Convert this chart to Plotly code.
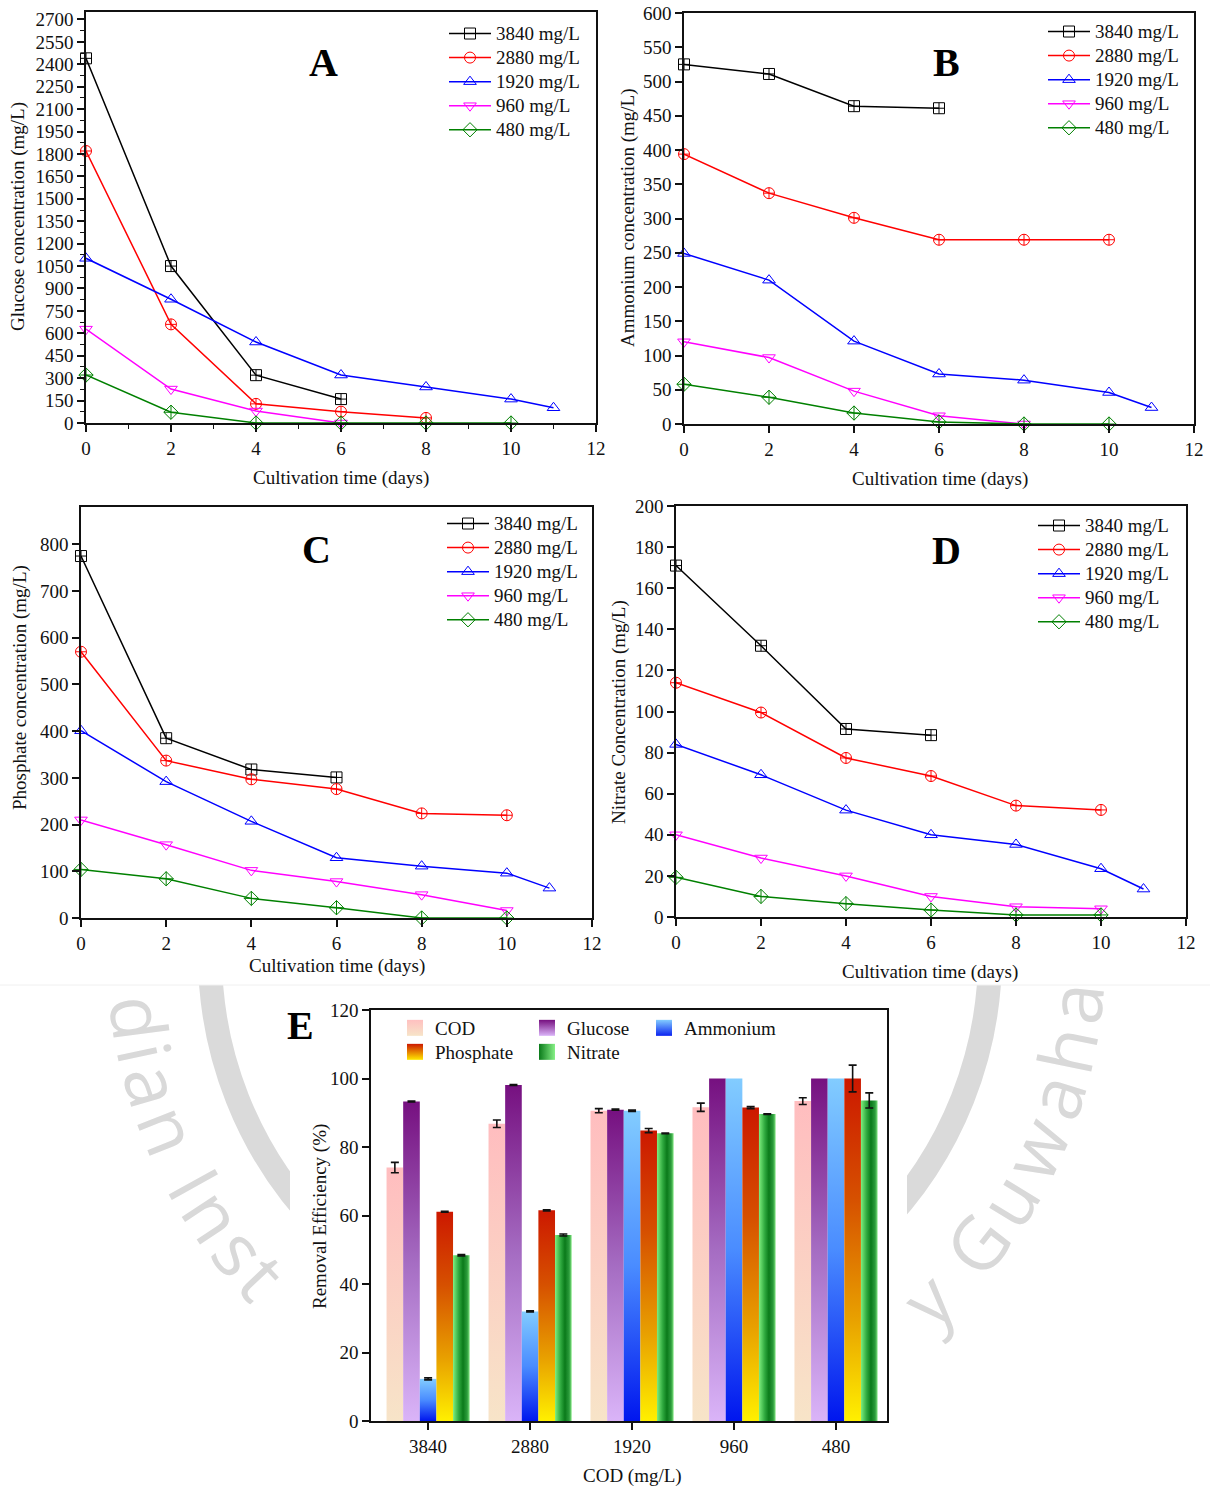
import math
import plotly.graph_objects as go

# ---------------- time-course data ----------------
days_to6 = [0, 2, 4, 6]
days_to8 = [0, 2, 4, 6, 8]
days_to10 = [0, 2, 4, 6, 8, 10]
days_to11 = [0, 2, 4, 6, 8, 10, 11]

dose_names = ["3840 mg/L", "2880 mg/L", "1920 mg/L", "960 mg/L", "480 mg/L"]

glucose_3840 = [2440, 1050, 320, 160]
glucose_2880 = [1820, 660, 128, 76, 34]
glucose_1920 = [1102, 828, 542, 321, 241, 160, 102]
glucose_960 = [628, 227, 80, 0]
glucose_480 = [321, 72, 0, 0, 0, 0]

ammonium_3840 = [525, 511, 464, 461]
ammonium_2880 = [394, 337, 301, 269, 269, 269]
ammonium_1920 = [249, 210, 121, 73, 64, 46, 24]
ammonium_960 = [120, 97, 48, 12, 0]
ammonium_480 = [58, 39, 16, 3, 0, 0]

phosphate_3840 = [775, 385, 318, 301]
phosphate_2880 = [570, 337, 297, 276, 224, 220]
phosphate_1920 = [401, 292, 207, 129, 111, 96, 64]
phosphate_960 = [210, 157, 102, 78, 50, 16]
phosphate_480 = [104, 84, 42, 22, 0, 0]

nitrate_3840 = [171, 132, 91.5, 88.5]
nitrate_2880 = [114, 99.5, 77.4, 68.6, 54.2, 52.1]
nitrate_1920 = [84, 69.2, 52, 40, 35.3, 23.5, 13.6]
nitrate_960 = [40, 28.7, 20, 10, 5, 4]
nitrate_480 = [19.3, 10, 6.5, 3.4, 1, 1]

# ---------------- removal efficiency (%) ----------------
cod_levels = ["3840", "2880", "1920", "960", "480"]
removal_cod = [74.0, 86.8, 90.6, 91.6, 93.4]
removal_glucose = [93.3, 98.1, 90.9, 100, 100]
removal_ammonium = [12.3, 32.0, 90.6, 100, 100]
removal_phosphate = [61.1, 61.5, 84.8, 91.5, 100]
removal_nitrate = [48.4, 54.3, 84.0, 89.6, 93.6]
sd_cod = [1.5, 1.1, 0.6, 1.2, 1.0]
sd_glucose = [0.15, 0.15, 0.15, None, None]
sd_ammonium = [0.3, 0.15, 0.2, None, None]
sd_phosphate = [0.15, 0.2, 0.6, 0.3, 3.9]
sd_nitrate = [0.2, 0.3, 0.1, 0.1, 2.2]

# ---------------- page geometry (pixels) ----------------
W, H = 1210, 1491
SERIF = "Liberation Serif"
INK = "#111111"


def fx(px):
    return px / W


def fy(py):
    return 1 - py / H


series_look = [
    ("#000000", "square-cross-open", "square-open"),
    ("#ff0000", "circle-cross-open", "circle-open"),
    ("#0000ff", "triangle-up-open", "triangle-up-open"),
    ("#ff00ff", "triangle-down-open", "triangle-down-open"),
    ("#008000", "diamond-cross-open", "diamond-open"),
]

time_panels = [
    dict(tag="A", n="", box=(86, 596, 12, 423), yr=[0, 2750], dy=150, minor=True,
         ytitle="Glucose concentration (mg/L)", ytitle_at=(18, 217), xtitle_at=(341, 478),
         tag_at=(323, 63), legend_at=(496, 82),
         series=[(days_to6, glucose_3840), (days_to8, glucose_2880), (days_to11, glucose_1920),
                 (days_to6, glucose_960), (days_to10, glucose_480)]),
    dict(tag="B", n="2", box=(684, 1194, 13, 424), yr=[0, 600], dy=50, minor=False,
         ytitle="Ammonium concentration (mg/L)", ytitle_at=(628, 218), xtitle_at=(940, 479),
         tag_at=(946, 63), legend_at=(1095, 80),
         series=[(days_to6, ammonium_3840), (days_to10, ammonium_2880), (days_to11, ammonium_1920),
                 (days_to8, ammonium_960), (days_to10, ammonium_480)]),
    dict(tag="C", n="3", box=(81, 592, 507, 918), yr=[0, 880], dy=100, minor=False,
         ytitle="Phosphate concentration (mg/L)", ytitle_at=(20, 688), xtitle_at=(337, 966),
         tag_at=(316, 549), legend_at=(494, 572),
         series=[(days_to6, phosphate_3840), (days_to10, phosphate_2880), (days_to11, phosphate_1920),
                 (days_to10, phosphate_960), (days_to10, phosphate_480)]),
    dict(tag="D", n="4", box=(676, 1186, 506, 917), yr=[0, 200], dy=20, minor=False,
         ytitle="Nitrate Concentration (mg/L)", ytitle_at=(619, 712), xtitle_at=(930, 972),
         tag_at=(946, 550), legend_at=(1085, 574),
         series=[(days_to6, nitrate_3840), (days_to10, nitrate_2880), (days_to11, nitrate_1920),
                 (days_to10, nitrate_960), (days_to10, nitrate_480)]),
]

LEGEND_ROW_FONT = 16.2   # sets the 24 px row pitch of the legends
LEGEND_ITEM_W = 42       # length of the legend line keys


def axis_style(**extra):
    d = dict(showline=True, linecolor=INK, linewidth=1.5, mirror=True, ticks="outside",
             ticklen=7, tickwidth=1.5, tickcolor=INK, showgrid=False, zeroline=False,
             automargin=False, tickfont=dict(family=SERIF, size=19, color=INK))
    d.update(extra)
    return d


fig = go.Figure()
layout = dict(template="none", width=W, height=H,
              margin=dict(l=0, r=0, t=0, b=0, pad=0, autoexpand=False),
              autosize=False, paper_bgcolor="white", plot_bgcolor="rgba(0,0,0,0)",
              font=dict(family=SERIF, size=19, color=INK), showlegend=True)
annotations = []

for idx, p in enumerate(time_panels):
    n = p["n"]
    xa, ya = "x" + n, "y" + n
    legend_id = "legend" + n
    l, r, t, b = p["box"]
    xkw = axis_style(domain=[fx(l), fx(r)], range=[0, 12], dtick=2, tick0=0, anchor=ya)
    ykw = axis_style(domain=[fy(b), fy(t)], range=p["yr"], dtick=p["dy"], tick0=0, anchor=xa)
    if p["minor"]:
        mk = dict(ticks="outside", ticklen=4, tickwidth=1.2, tickcolor=INK, showgrid=False)
        xkw["minor"] = dict(dtick=1, **mk)
        ykw["minor"] = dict(dtick=p["dy"] / 2, **mk)
    layout["xaxis" + n] = xkw
    layout["yaxis" + n] = ykw

    for k, (days, vals) in enumerate(p["series"]):
        color, sym, legend_sym = series_look[k]
        fig.add_trace(go.Scatter(
            x=days, y=vals, mode="lines+markers", xaxis=xa, yaxis=ya,
            line=dict(color=color, width=1.5),
            marker=dict(symbol=sym, size=11, color=color, line=dict(width=1, color=color)),
            cliponaxis=False, showlegend=False, hoverinfo="skip"))
        # legend key with the plain open symbol
        fig.add_trace(go.Scatter(
            x=[None], y=[None], mode="lines+markers", xaxis=xa, yaxis=ya,
            name="<span style='font-size:19px'>%s</span>" % dose_names[k], legend=legend_id,
            line=dict(color=color, width=1.5),
            marker=dict(symbol=legend_sym, size=11, color=color, line=dict(width=1, color=color))))

    lx, lyc = p["legend_at"]
    layout[legend_id] = dict(x=fx(lx - LEGEND_ITEM_W - 10), y=fy(lyc), xanchor="left",
                             yanchor="middle", bgcolor="rgba(0,0,0,0)", borderwidth=0,
                             font=dict(family=SERIF, size=LEGEND_ROW_FONT, color=INK),
                             itemwidth=LEGEND_ITEM_W, tracegroupgap=0)

    annotations.append(dict(text=p["ytitle"], x=fx(p["ytitle_at"][0]), y=fy(p["ytitle_at"][1]),
                            xref="paper", yref="paper", textangle=-90, showarrow=False,
                            xanchor="center", yanchor="middle",
                            font=dict(family=SERIF, size=19, color=INK)))
    annotations.append(dict(text="Cultivation time (days)", x=fx(p["xtitle_at"][0]),
                            y=fy(p["xtitle_at"][1]), xref="paper", yref="paper", showarrow=False,
                            xanchor="center", yanchor="middle",
                            font=dict(family=SERIF, size=19, color=INK)))
    annotations.append(dict(text="<b>%s</b>" % p["tag"], x=fx(p["tag_at"][0]), y=fy(p["tag_at"][1]),
                            xref="paper", yref="paper", showarrow=False,
                            xanchor="center", yanchor="middle",
                            font=dict(family=SERIF, size=40, color="#000000")))

# ---------------- panel E: grouped gradient bars ----------------
E_BOX = (371, 887, 1010, 1421)
layout["xaxis5"] = axis_style(domain=[fx(E_BOX[0]), fx(E_BOX[1])], range=[-0.56, 4.5],
                              tickvals=list(range(len(cod_levels))), ticktext=cod_levels,
                              anchor="y5")
layout["yaxis5"] = axis_style(domain=[fy(E_BOX[3]), fy(E_BOX[2])], range=[0, 120], dtick=20,
                              tick0=0, anchor="x5")

bar_series = [
    ("COD", removal_cod, sd_cod,
     dict(type="vertical", colorscale=[[0, "#f7e4c8"], [1, "#ffbdbf"]]),
     ("#ffc0c0", "#f7e4c8", "vertical"), (435, 1028)),
    ("Glucose", removal_glucose, sd_glucose,
     dict(type="vertical", colorscale=[[0, "#dab4f8"], [0.5, "#a56cc2"], [1, "#761080"]]),
     ("#761080", "#dab4f8", "vertical"), (567, 1028)),
    ("Ammonium", removal_ammonium, sd_ammonium,
     dict(type="vertical", colorscale=[[0, "#0016ee"], [0.5, "#4a8cff"], [1, "#82ccff"]]),
     ("#82ccff", "#0a22f0", "vertical"), (684, 1028)),
    ("Phosphate", removal_phosphate, sd_phosphate,
     dict(type="vertical", colorscale=[[0, "#fff000"], [0.3, "#e8a000"], [0.65, "#d65000"],
                                       [1, "#cc1800"]]),
     ("#cc1800", "#ffe800", "vertical"), (435, 1052)),
    ("Nitrate", removal_nitrate, sd_nitrate,
     dict(type="horizontal", colorscale=[[0, "#7eee7e"], [0.35, "#2ea83e"], [0.6, "#0a7a1a"],
                                         [0.85, "#2c9c3c"], [1, "#7fe57f"]]),
     ("#0a7a1a", "#86f086", "horizontal"), (567, 1052)),
]
BAR_W = 0.163

for k, (name, vals, sds, grad, key, key_at) in enumerate(bar_series):
    offset = (k - 2) * BAR_W
    for i, v in enumerate(vals):
        xc = i + offset
        x0, x1 = xc - BAR_W / 2, xc + BAR_W / 2
        fig.add_trace(go.Scatter(
            x=[x0, x0, x1, x1, x0], y=[0, v, v, 0, 0], mode="lines", fill="toself",
            fillgradient=grad, line=dict(width=0, color="rgba(0,0,0,0)"),
            xaxis="x5", yaxis="y5", showlegend=False, hoverinfo="skip"))
    ex = [i + offset for i, s in enumerate(sds) if s is not None]
    ey = [vals[i] for i, s in enumerate(sds) if s is not None]
    ee = [s for s in sds if s is not None]
    fig.add_trace(go.Scatter(
        x=ex, y=ey, mode="markers", marker=dict(size=2, color="rgba(0,0,0,0)"),
        error_y=dict(type="data", array=ee, visible=True, color=INK, thickness=1.6, width=4),
        xaxis="x5", yaxis="y5", showlegend=False, hoverinfo="skip", cliponaxis=False))

    legend_id = "legend%d" % (5 + k)
    top_c, end_c, gtype = key
    fig.add_trace(go.Scatter(
        x=[None], y=[None], mode="markers", name=name, legend=legend_id,
        xaxis="x5", yaxis="y5",
        marker=dict(symbol="square", size=16, color=top_c, line=dict(width=0),
                    gradient=dict(type=gtype, color=end_c))))
    layout[legend_id] = dict(x=fx(key_at[0] - 40), y=fy(key_at[1]), xanchor="left",
                             yanchor="middle", bgcolor="rgba(0,0,0,0)", borderwidth=0,
                             font=dict(family=SERIF, size=19, color=INK), itemwidth=30)

annotations += [
    dict(text="Removal Efficiency (%)", x=fx(320), y=fy(1217), textangle=-90),
    dict(text="COD (mg/L)", x=fx(632), y=fy(1476)),
    dict(text="<b>E</b>", x=fx(300), y=fy(1025), font=dict(family=SERIF, size=40, color="#000000")),
]
for a in annotations[-3:]:
    a.update(xref="paper", yref="paper", showarrow=False, xanchor="center", yanchor="middle")
    a.setdefault("font", dict(family=SERIF, size=19, color=INK))

# ---------------- faint institutional watermark behind panel E ----------------
RING_CX, RING_CY, RING_R = 600, 955, 390
TEXT_CX, TEXT_CY, TEXT_R = 606, 955, 470
WM_TEXT = "Indian Institute of Technology Guwahati"
glyph_em = {"I": 0.28, "n": 0.6, "d": 0.6, "i": 0.26, "a": 0.55, " ": 0.28, "s": 0.48, "t": 0.35,
            "u": 0.6, "e": 0.56, "o": 0.6, "f": 0.33, "T": 0.55, "c": 0.5, "h": 0.6, "l": 0.26,
            "g": 0.6, "y": 0.52, "G": 0.7, "w": 0.8}
DEG_PER_EM = 10.09
phi = 182.9
prev_half = None
for ch in WM_TEXT:
    w = glyph_em.get(ch, 0.55)
    if prev_half is not None:
        phi -= DEG_PER_EM * (prev_half + w / 2)
    prev_half = w / 2
    if ch == " ":
        continue
    px = TEXT_CX + TEXT_R * math.cos(math.radians(phi))
    py = TEXT_CY + TEXT_R * math.sin(math.radians(phi))
    if py > 985 and (px < 268 or px > 912):
        annotations.append(dict(text=ch, x=fx(px), y=fy(py), xref="paper", yref="paper",
                                showarrow=False, xanchor="center", yanchor="middle",
                                textangle=phi - 90,
                                font=dict(family="Open Sans", size=74, color="#d9d9d9")))

shapes = [
    dict(type="circle", xref="paper", yref="paper", layer="below",
         x0=fx(RING_CX - RING_R), x1=fx(RING_CX + RING_R),
         y0=fy(RING_CY + RING_R), y1=fy(RING_CY - RING_R),
         line=dict(color="#dadada", width=24)),
    dict(type="rect", xref="paper", yref="paper", layer="below",
         x0=0, x1=1, y0=fy(985), y1=1, fillcolor="white", line=dict(width=0)),
    dict(type="rect", xref="paper", yref="paper", layer="below",
         x0=fx(290), x1=fx(907), y0=0, y1=fy(985), fillcolor="white", line=dict(width=0)),
    dict(type="line", xref="paper", yref="paper", layer="below",
         x0=0, x1=1, y0=fy(985), y1=fy(985), line=dict(color="#f0f0f0", width=1)),
]

layout["annotations"] = annotations
layout["shapes"] = shapes
fig.update_layout(**layout)
fig.write_html("out.html")
